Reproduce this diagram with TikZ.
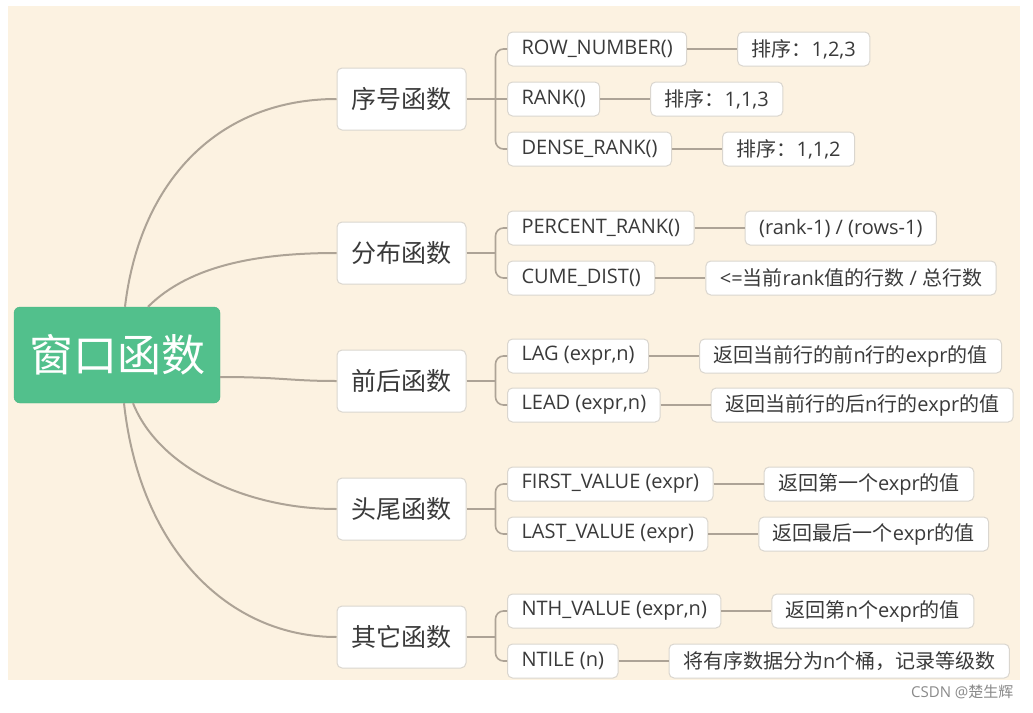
\documentclass[tikz,border=0pt]{standalone}
\usepackage{fontspec}
\setmainfont{Open Sans}
\newfontfamily\cjk{Noto Sans CJK SC}
\usepackage{tikz}
\usetikzlibrary{positioning, calc}
\definecolor{bgcream}{HTML}{FCF2E1}
\definecolor{rootfill}{HTML}{52C08C}
\definecolor{rootline}{HTML}{4AB482}
\definecolor{linkline}{HTML}{ADA396}
\definecolor{boxline}{HTML}{DAD6CF}
\definecolor{txtgray}{HTML}{3A3A3A}
\definecolor{markgray}{HTML}{8A8A8A}
\tikzset{
  rootblk/.style = {rectangle, rounded corners=6pt, draw=rootline, fill=rootfill,
                    text=white, font=\cjk\fontsize{44}{50}\selectfont,
                    minimum width=206pt, minimum height=96pt, inner sep=0pt},
  catblk/.style  = {rectangle, rounded corners=5pt, draw=boxline, fill=white, line width=1pt,
                    text=txtgray, font=\cjk\fontsize{25}{30}\selectfont,
                    minimum width=129pt, minimum height=62pt, inner sep=0pt},
  fnblk/.style   = {rectangle, rounded corners=5pt, draw=boxline, fill=white, line width=1pt,
                    text=txtgray, font=\fontsize{20}{24}\selectfont,
                    minimum height=34pt, inner xsep=14pt, inner ysep=0pt, anchor=west},
  descblk/.style = {fnblk},
  trunk/.style   = {line width=2pt, draw=linkline},
  link/.style    = {line width=1.6pt, draw=linkline},
}

\begin{document}
\begin{tikzpicture}[x=1pt, y=-1pt, node distance=50pt]
	\useasboundingbox (0,0) rectangle (1033,712);
	\fill[white] (0,0) rectangle (1033,712);
	\fill[bgcream] (8,6) rectangle (1020,680);

	\node[rootblk] (root) at (117,355) {窗口函数};

	\node[catblk] (c1) at (401.5,99)  {序号函数};
	\node[catblk] (c2) at (401.5,253) {分布函数};
	\node[catblk] (c3) at (401.5,381) {前后函数};
	\node[catblk] (c4) at (401.5,509) {头尾函数};
	\node[catblk] (c5) at (401.5,637) {其它函数};

	\node[fnblk] (f11) at (507,49)  {ROW\_NUMBER()};
	\node[fnblk] (f12) at (507,99)  {RANK()};
	\node[fnblk] (f13) at (507,149) {DENSE\_RANK()};
	\node[fnblk] (f21) at (507,228) {PERCENT\_RANK()};
	\node[fnblk] (f22) at (507,278) {CUME\_DIST()};
	\node[fnblk] (f31) at (507,356) {LAG (expr,n)};
	\node[fnblk] (f32) at (507,405) {LEAD (expr,n)};
	\node[fnblk] (f41) at (507,484) {FIRST\_VALUE (expr)};
	\node[fnblk] (f42) at (507,534) {LAST\_VALUE (expr)};
	\node[fnblk] (f51) at (507,611) {NTH\_VALUE (expr,n)};
	\node[fnblk] (f52) at (507,661) {NTILE (n)};

	\node[descblk, right=of f11] (d11) {{\cjk 排序：}1,2,3};
	\node[descblk, right=of f12] (d12) {{\cjk 排序：}1,1,3};
	\node[descblk, right=of f13] (d13) {{\cjk 排序：}1,1,2};
	\node[descblk, right=of f21] (d21) {(rank-1) / (rows-1)};
	\node[descblk, right=of f22] (d22) {<={\cjk 当前}rank{\cjk 值的行数} / {\cjk 总行数}};
	\node[descblk, right=of f31] (d31) {{\cjk 返回当前行的前}n{\cjk 行的}expr{\cjk 的值}};
	\node[descblk, right=of f32] (d32) {{\cjk 返回当前行的后}n{\cjk 行的}expr{\cjk 的值}};
	\node[descblk, right=of f41] (d41) {{\cjk 返回第一个}expr{\cjk 的值}};
	\node[descblk, right=of f42] (d42) {{\cjk 返回最后一个}expr{\cjk 的值}};
	\node[descblk, right=of f51] (d51) {{\cjk 返回第}n{\cjk 个}expr{\cjk 的值}};
	\node[descblk, right=of f52] (d52) {{\cjk 将有序数据分为}n{\cjk 个桶，记录等级数}};

	% root to the five groups
	\draw[trunk] ([xshift=8pt]root.north) .. controls +(15,-127) and +(-117,0) .. (c1.west);
	\draw[trunk] ([xshift=31pt]root.north) .. controls +(42,-42) and +(-77,0) .. (c2.west);
	\draw[trunk] ([yshift=-22pt]root.east) .. controls +(60,0) and +(-47,0) .. (c3.west);
	\draw[trunk] ([xshift=16pt]root.south) .. controls +(27,67) and +(-87,0) .. (c4.west);
	\draw[trunk] ([xshift=7pt]root.south) .. controls +(16,147) and +(-107,0) .. (c5.west);

	% brackets
	\foreach \i in {1,...,5}{
		\coordinate (b\i) at ([xshift=29pt]c\i.east);
		\draw[link] (c\i) -- (b\i);
	}
	\draw[link, rounded corners=8pt] (f11.west) -| (b1) |- (f13.west);
	\draw[link] (b1) -- (f12.west);
	\foreach \i in {2,...,5}{\draw[link, rounded corners=8pt] (f\i1.west) -| (b\i) |- (f\i2.west);}

	\foreach \a in {11,12,13,21,22,31,32,41,42,51,52}{\draw[link] (f\a) -- (d\a);}

	\node[text=markgray, font=\fontsize{15}{18}\selectfont, anchor=east] (mark) at (1017,692) {CSDN @{\cjk 楚生辉}};
\end{tikzpicture}
\end{document}
